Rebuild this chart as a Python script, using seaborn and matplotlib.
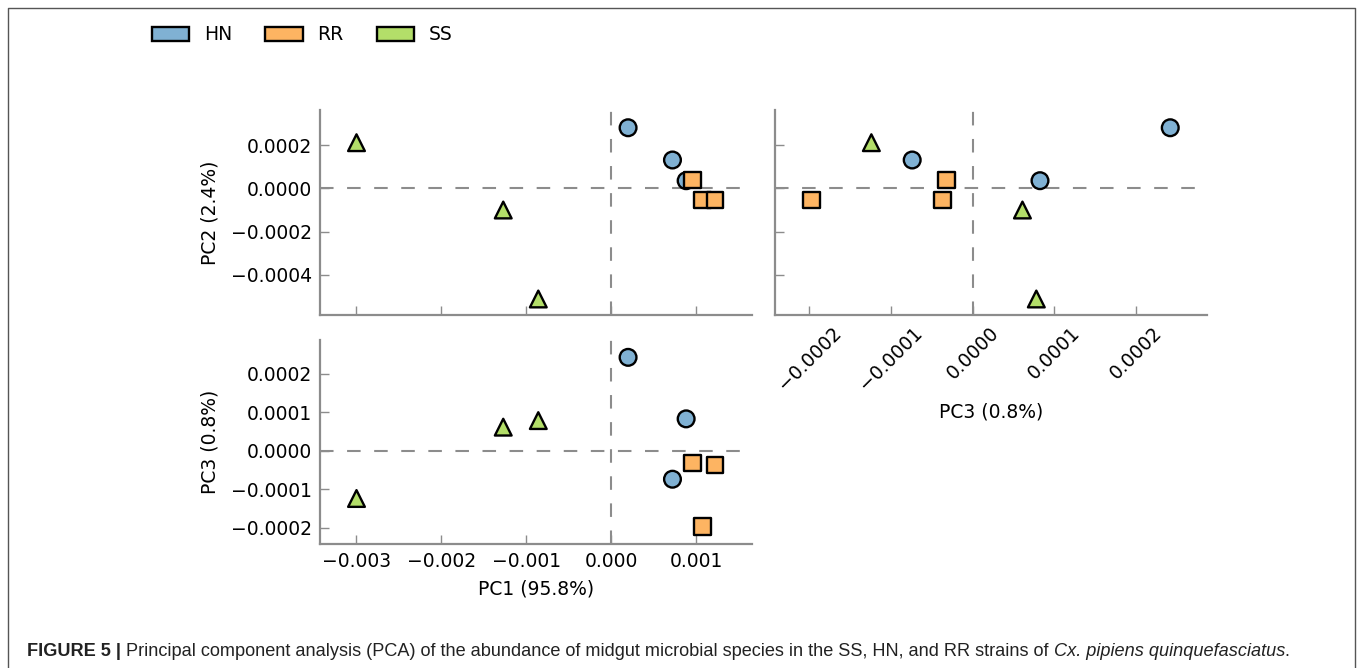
import numpy as np
import pandas as pd
import matplotlib
matplotlib.use("Agg")
import matplotlib.pyplot as plt
from matplotlib.patches import Patch
from matplotlib.lines import Line2D
from matplotlib.ticker import FixedLocator, FuncFormatter
import seaborn as sns

# ---------------- data ----------------
strains = ["HN", "HN", "HN", "RR", "RR", "RR", "SS", "SS", "SS"]
pc1 = [0.000200, 0.000723, 0.000884, 0.000962, 0.001080, 0.001223, -0.003000, -0.001271, -0.000858]
pc2 = [0.000280, 0.000131, 0.0000354, 0.0000385, -0.0000538, -0.0000538, 0.000211, -0.000100, -0.000511]
pc3 = [0.000242, -0.000074, 0.0000825, -0.000032, -0.000197, -0.0000369, -0.000124, 0.000061, 0.000078]

legend_labels = ["HN", "RR", "SS"]
pc1_ticks = [-0.003, -0.002, -0.001, 0.000, 0.001]
pc2_ticks = [-0.0004, -0.0002, 0.0000, 0.0002]
pc3_ticks = [-0.0002, -0.0001, 0.0000, 0.0001, 0.0002]
pc1_label = "PC1 (95.8%)"
pc2_label = "PC2 (2.4%)"
pc3_label = "PC3 (0.8%)"
caption_bold = "FIGURE 5 |"
caption_regular = " Principal component analysis (PCA) of the abundance of midgut microbial species in the SS, HN, and RR strains of "
caption_italic = "Cx. pipiens quinquefasciatus"
caption_end = "."

df = pd.DataFrame({"strain": strains, "PC1": pc1, "PC2": pc2, "PC3": pc3})

# ---------------- style ----------------
sns.set_style("white")
plt.rcParams["font.family"] = ["DejaVu Sans"]
plt.rcParams["text.color"] = "black"
plt.rcParams["axes.labelcolor"] = "black"
plt.rcParams["xtick.color"] = "black"
plt.rcParams["ytick.color"] = "black"
palette = {"HN": "#80b1d3", "RR": "#fdb462", "SS": "#b3de69"}
markers = {"HN": "o", "RR": "s", "SS": "^"}
GRAY = "#8c8c8c"
FS = 13.5

W, H = 1358, 668
fig = plt.figure(figsize=(W / 100, H / 100), dpi=100)

def px_axes(l, t, r, b):
    return fig.add_axes([l / W, 1 - b / H, (r - l) / W, (b - t) / H])

ax_tl = px_axes(320, 110, 752, 315)
ax_tr = px_axes(775, 110, 1207, 315)
ax_bl = px_axes(320, 340, 752, 544)

xlim1 = (-0.00343, 0.00166)
ylim2 = (-0.000585, 0.000362)
lim3 = (-0.000242, 0.000287)

def fmt(dec):
    return FuncFormatter(lambda v, p: (f"{v:.{dec}f}").replace("-", "\u2212") if abs(v) > 1e-12 else f"{0:.{dec}f}")

def panel(ax, x, y, xlim, ylim, xt, yt, xdec, ydec, show_x, show_y, xlab, ylab, rot=0):
    sns.scatterplot(data=df, x=x, y=y, hue="strain", style="strain", palette=palette,
                    markers=markers, s=145, edgecolor="black", linewidth=1.7,
                    legend=False, ax=ax, zorder=3)
    ax.axhline(0, color=GRAY, lw=1.5, dashes=(6.5, 6.5), zorder=1)
    ax.axvline(0, color=GRAY, lw=1.5, dashes=(6.5, 6.5), zorder=1)
    ax.set_xlim(*xlim)
    ax.set_ylim(*ylim)
    ax.xaxis.set_major_locator(FixedLocator(xt))
    ax.yaxis.set_major_locator(FixedLocator(yt))
    ax.xaxis.set_major_formatter(fmt(xdec))
    ax.yaxis.set_major_formatter(fmt(ydec))
    for s in ["top", "right"]:
        ax.spines[s].set_visible(False)
    for s in ["left", "bottom"]:
        ax.spines[s].set_color(GRAY)
        ax.spines[s].set_linewidth(1.6)
    ax.tick_params(direction="in", length=6.5, width=1.0, color=GRAY,
                   labelsize=FS, labelcolor="black", pad=6,
                   left=True, bottom=True)
    ax.tick_params(axis="x", labelbottom=show_x, labelrotation=rot)
    ax.tick_params(axis="y", labelleft=show_y)
    ax.set_xlabel(xlab if xlab else "", fontsize=FS, labelpad=6, color="black")
    ax.set_ylabel(ylab if ylab else "", fontsize=FS, labelpad=8, color="black")

panel(ax_tl, "PC1", "PC2", xlim1, ylim2, pc1_ticks, pc2_ticks, 3, 4, False, True, None, pc2_label)
panel(ax_tr, "PC3", "PC2", lim3, ylim2, pc3_ticks, pc2_ticks, 4, 4, True, False, pc3_label, None, rot=45)
panel(ax_bl, "PC1", "PC3", xlim1, lim3, pc1_ticks, pc3_ticks, 3, 4, True, True, pc1_label, pc3_label)

# ---------------- legend ----------------
handles = [Patch(facecolor=palette[k], edgecolor="black", linewidth=1.7, label=k) for k in legend_labels]
fig.legend(handles=handles, loc="center left", bbox_to_anchor=(144 / W, 1 - 35 / H),
           ncol=3, frameon=False, fontsize=FS, handlelength=2.0, handleheight=0.7,
           handletextpad=0.8, columnspacing=1.75, borderaxespad=0.0, borderpad=0.4)

# ---------------- border ----------------
bx = [8 / W, 8 / W, 1355 / W, 1355 / W]
by = [0.0, 1 - 8 / H, 1 - 8 / H, 0.0]
fig.add_artist(Line2D(bx, by, transform=fig.transFigure, color="#555555", lw=1.0))

# ---------------- caption ----------------
cap_font = ["Liberation Sans", "DejaVu Sans"]
renderer = fig.canvas.get_renderer()
target_w = 1284 - 27
x0, yb = 27, 656

def draw_caption(size):
    arts = []
    x = x0
    for txt, w, st in [(caption_bold, "bold", "normal"), (caption_regular, "normal", "normal"),
                       (caption_italic, "normal", "italic"), (caption_end, "normal", "normal")]:
        t = fig.text(x / W, 1 - yb / H, txt, fontsize=size, fontweight=w, fontstyle=st,
                     family=cap_font, color="#222222", va="baseline", ha="left")
        bb = t.get_window_extent(renderer)
        x += bb.width
        arts.append(t)
    return arts, x - x0

arts, wid = draw_caption(11)
for a in arts:
    a.remove()
size = 11 * target_w / wid
draw_caption(size)

fig.savefig("out.png", dpi=100)
